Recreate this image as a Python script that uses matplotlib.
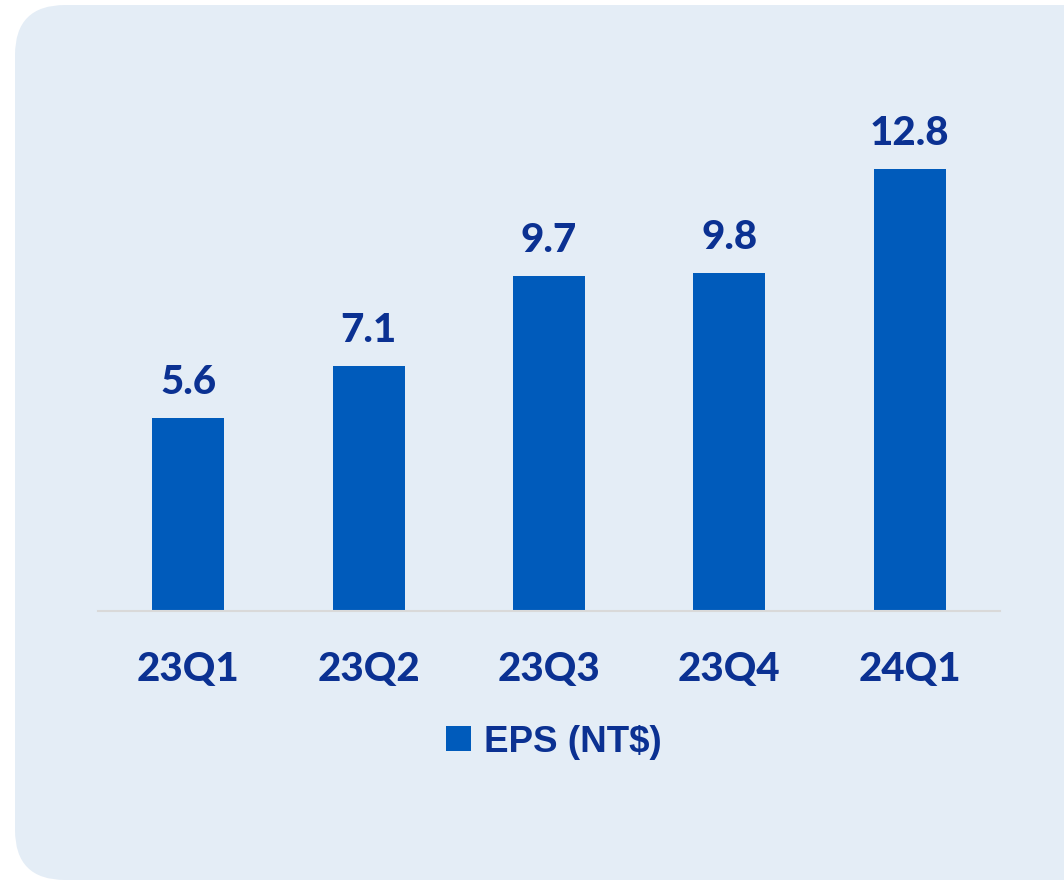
import matplotlib
matplotlib.use("Agg")
import matplotlib.pyplot as plt
from matplotlib.patches import FancyBboxPatch
from matplotlib.transforms import IdentityTransform

categories = ["23Q1", "23Q2", "23Q3", "23Q4", "24Q1"]
eps = [5.6, 7.1, 9.7, 9.8, 12.8]
series_name = "EPS (NT$)"

W, H = 1064, 881
fig = plt.figure(figsize=(W / 100, H / 100), dpi=100)
fig.patch.set_facecolor("white")

bg = FancyBboxPatch((15, 1), 1150, 875, boxstyle="round,pad=0,rounding_size=50",
                    transform=IdentityTransform(), facecolor="#E4EDF6",
                    edgecolor="none", zorder=-5)
fig.patches.append(bg)

left, right, bottom, top = 98, 1000, 611, 100
ax = fig.add_axes([left / W, 1 - bottom / H, (right - left) / W, (bottom - top) / H])
ax.set_facecolor("none")
ax.set_zorder(1)

bar_color = "#005BBB"
text_color = "#0B3192"
bars = ax.bar(range(len(categories)), eps, width=0.4, color=bar_color, label=series_name, zorder=2)
ax.set_xlim(-0.5, len(categories) - 0.5)
ax.set_ylim(0, (bottom - top) / 34.53)

for i, v in enumerate(eps):
    ax.annotate(f"{v:.1f}", (i, v), xytext=(0, 12), textcoords="offset points",
                ha="center", va="bottom", fontsize=29, fontweight=900,
                color=text_color, family="Lato")

ax.set_xticks(range(len(categories)))
ax.set_xticklabels(categories, fontsize=29, fontweight=900, color=text_color, family="Lato")
ax.tick_params(axis="x", length=0, pad=29)
ax.set_yticks([])
for s in ["left", "right", "top"]:
    ax.spines[s].set_visible(False)
ax.spines["bottom"].set_color("#D9D9D9")
ax.spines["bottom"].set_linewidth(1.5)

leg = ax.legend(loc="center", bbox_to_anchor=(554 / W, 1 - 742 / H),
                bbox_transform=fig.transFigure, frameon=False,
                handlelength=0.66, handleheight=0.66, handletextpad=0.36,
                prop={"family": "Liberation Sans", "weight": "bold", "size": 26.5})
for t in leg.get_texts():
    t.set_color(text_color)

fig.savefig("out.png", dpi=100)
